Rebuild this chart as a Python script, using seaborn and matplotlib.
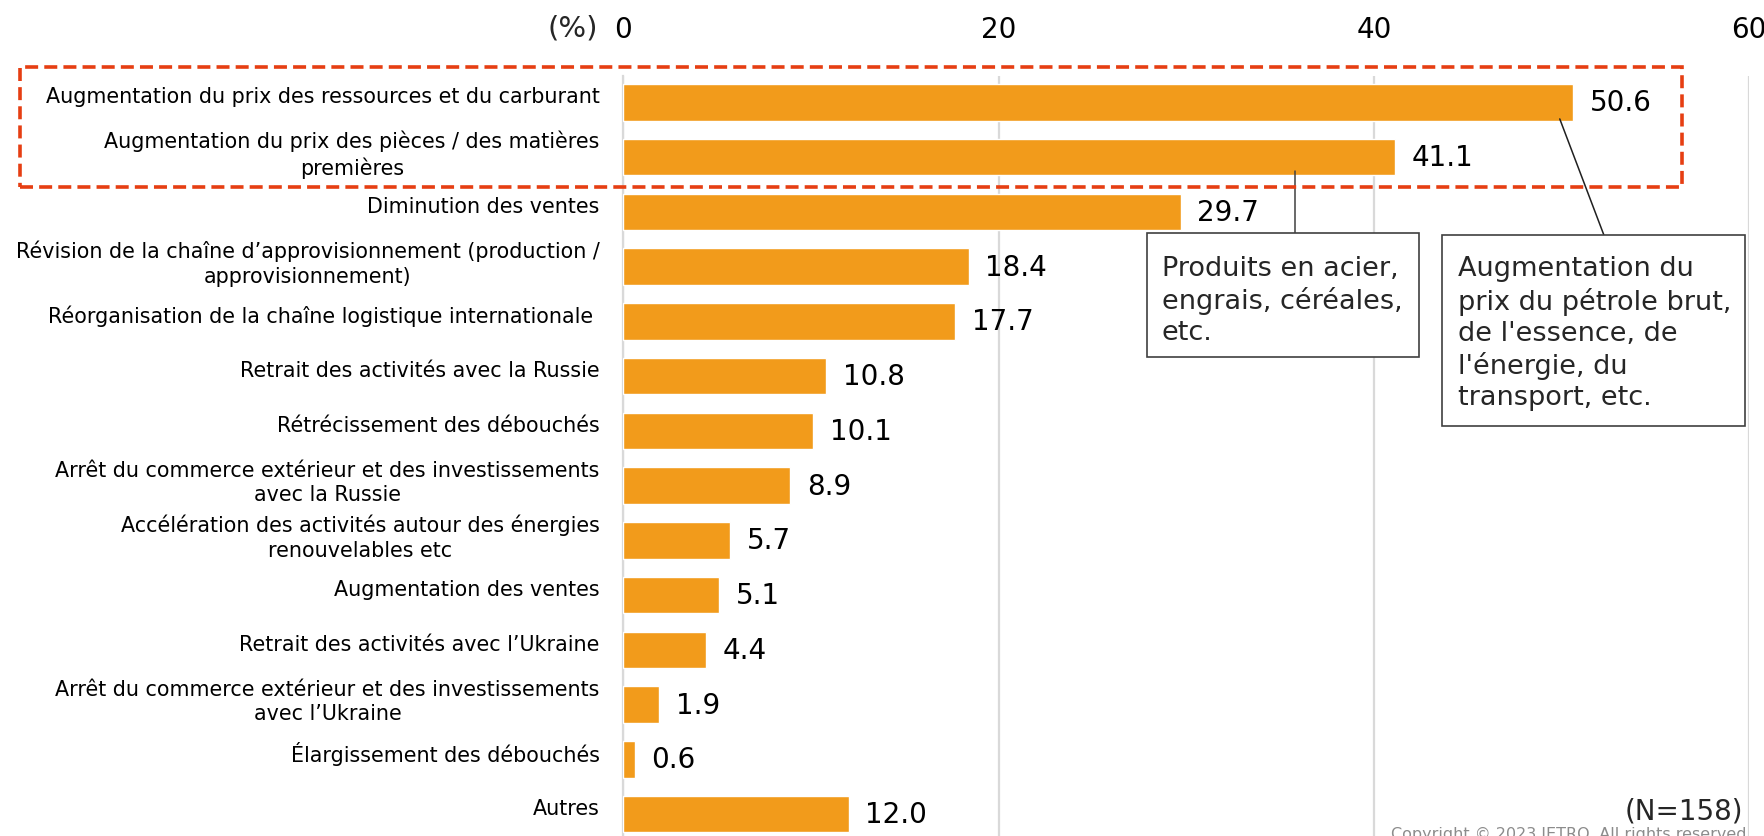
import matplotlib
matplotlib.use("Agg")
import matplotlib.pyplot as plt
from matplotlib.patches import Rectangle
from matplotlib.transforms import ScaledTranslation
import seaborn as sns

# Survey results: impact of the Russia-Ukraine situation on business (%)
categories = [
    "Augmentation du prix des ressources et du carburant",
    "Augmentation du prix des pièces / des matières\npremières",
    "Diminution des ventes",
    "Révision de la chaîne d\u2019approvisionnement (production /\napprovisionnement)",
    "Réorganisation de la chaîne logistique internationale ",
    "Retrait des activités avec la Russie",
    "Rétrécissement des débouchés",
    "Arrêt du commerce extérieur et des investissements\navec la Russie",
    "Accélération des activités autour des énergies\nrenouvelables etc",
    "Augmentation des ventes",
    "Retrait des activités avec l\u2019Ukraine",
    "Arrêt du commerce extérieur et des investissements\navec l\u2019Ukraine",
    "Élargissement des débouchés",
    "Autres",
]
values = [50.6, 41.1, 29.7, 18.4, 17.7, 10.8, 10.1, 8.9, 5.7, 5.1, 4.4, 1.9, 0.6, 12.0]
x_ticks = [0, 20, 40, 60]

note_steel = "Produits en acier,\nengrais, céréales,\netc."
note_oil = "Augmentation du\nprix du pétrole brut,\nde l'essence, de\nl'énergie, du\ntransport, etc."
sample_note = "(N=158)"
copyright_note = "Copyright \u00a9 2023 JETRO. All rights reserved."

BAR = "#F29B1B"
GRID = "#D9D9D9"
RED = "#E63E12"

sns.set_theme(style="white")
plt.rcParams["font.family"] = ["DejaVu Sans"]

W, H = 1764, 837
fig = plt.figure(figsize=(W / 100, H / 100), dpi=100)
ax = fig.add_axes([623.3 / W, 0.0, (1749.3 - 623.3) / W, (H - 77) / H])

sns.barplot(x=values, y=categories, orient="h", color=BAR, saturation=1,
            width=0.667, ax=ax, zorder=3)

ax.set_xlim(0, 60)
ax.set_ylim(13.40, -0.484)
ax.set_xticks(x_ticks)
ax.set_xticklabels([str(t) for t in x_ticks])
ax.xaxis.tick_top()
ax.tick_params(axis="x", length=0, pad=24, labelsize=20, colors="#000000")
ax.tick_params(axis="y", length=0, pad=17, labelsize=14.9)
# category labels sit slightly above the bar centres
lift = ScaledTranslation(0, 0.08, fig.dpi_scale_trans)
for lbl in ax.get_yticklabels():
    lbl.set_multialignment("center")
    lbl.set_linespacing(1.3)
    lbl.set_color("#000000")
    lbl.set_transform(lbl.get_transform() + lift)
ax.set_xlabel("")
ax.set_ylabel("")

ax.grid(axis="x", color=GRID, linewidth=1.6, zorder=0)
ax.grid(axis="y", visible=False)
ax.set_axisbelow(True)
for side in ["top", "right", "bottom"]:
    ax.spines[side].set_visible(False)
ax.spines["left"].set_color(GRID)
ax.spines["left"].set_linewidth(1.6)

ax.bar_label(ax.containers[0], labels=[f"{v:.1f}" for v in values],
             padding=12, fontsize=20, color="#000000")

# unit label next to the first tick
fig.text(598 / W, 1 - 29 / H, "(%)", ha="right", va="center", fontsize=21)

# dashed frame around the top two items
fig.patches.append(Rectangle((20 / W, (H - 188) / H), (1682 - 20) / W, 120 / H,
                             transform=fig.transFigure, fill=False,
                             edgecolor=RED, linewidth=2.6,
                             linestyle=(0, (3.6, 1.7)), zorder=10))

# callout boxes
ax.add_patch(Rectangle((27.9, 2.385), 42.4 - 27.9, 4.65 - 2.385, facecolor="white",
                       edgecolor="#404040", linewidth=1.2, zorder=5, clip_on=False))
ax.text(28.7, 2.78, note_steel, ha="left", va="top", fontsize=19.5,
        linespacing=1.25, zorder=6)
ax.plot([35.8, 35.8], [1.25, 2.385], color="#404040", linewidth=1.1, zorder=4)

ax.add_patch(Rectangle((43.6, 2.42), 59.76 - 43.6, 5.91 - 2.42, facecolor="white",
                       edgecolor="#404040", linewidth=1.2, zorder=5, clip_on=False))
ax.text(44.5, 2.79, note_oil, ha="left", va="top", fontsize=19.5,
        linespacing=1.25, zorder=6)
ax.plot([49.9, 52.25], [0.3, 2.42], color="#202020", linewidth=1.1, zorder=4)

fig.text(1743 / W, 1 - 812 / H, sample_note, ha="right", va="center", fontsize=20)
fig.text(1752 / W, 1 - 827 / H, copyright_note, ha="right", va="top",
         fontsize=11.5, color="#8C8C8C")

fig.savefig("out.png", dpi=100)
